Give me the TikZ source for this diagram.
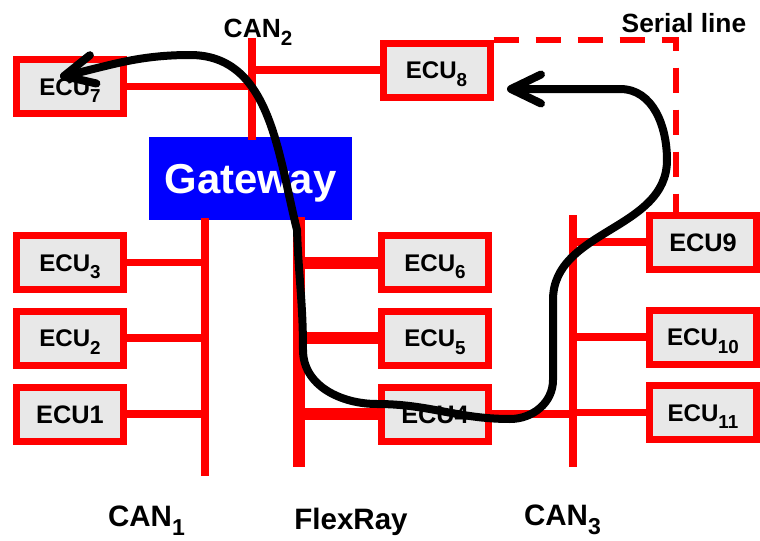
\documentclass[tikz,border=0pt]{standalone}
\usepackage{fontspec}
\setsansfont{Liberation Sans}
\usetikzlibrary{arrows.meta}
\definecolor{busred}{RGB}{255,0,0}
\definecolor{ecugray}{RGB}{232,232,232}
\definecolor{gwblue}{RGB}{0,0,255}
\makeatletter
\newcommand{\idx}[1]{\raisebox{-0.32em}{\fontsize{\fpeval{0.78*\f@size}}{1}\selectfont #1}}
\makeatother

\begin{document}
\begin{tikzpicture}[
  font=\sffamily\bfseries,
  ecu/.style={rectangle, draw=busred, line width=0.14cm, fill=ecugray, inner sep=0pt,
    minimum width=2.14cm, minimum height=1.08cm, text height=9.8pt, text depth=0pt,
    font=\sffamily\bfseries\fontsize{13.7}{16}\selectfont},
  ecuplain/.style={ecu, text height=10.3pt,
    font=\sffamily\bfseries\fontsize{14.4}{17}\selectfont},
  gateway/.style={rectangle, fill=gwblue, text=white, inner sep=0pt,
    minimum width=4.06cm, minimum height=1.66cm, text height=17pt, text depth=0pt,
    font=\sffamily\bfseries\fontsize{23.8}{28}\selectfont},
  buslabel/.style={anchor=base, inner sep=0pt,
    font=\sffamily\bfseries\fontsize{15}{18}\selectfont},
  netlabel/.style={anchor=base, inner sep=0pt,
    font=\sffamily\bfseries\fontsize{16.8}{20}\selectfont},
  bus/.style={draw=busred, line width=0.16cm},
  flexbus/.style={draw=busred, line width=0.24cm},
  stub/.style={draw=busred, line width=0.15cm},
  flexstub/.style={draw=busred, line width=0.24cm},
  serial/.style={draw=busred, line width=0.12cm, dash pattern=on 0.5cm off 0.34cm},
  route/.style={draw=black, line width=0.16cm, line cap=round, line join=round,
    {Straight Barb[length=0.6cm,width=0.58cm,round]}-{Straight Barb[length=0.6cm,width=0.58cm,round]}}
]
  \useasboundingbox (0,0) rectangle (15.2,-10.82);

  % Gateway and ECUs.
  \node[gateway] (gateway) at (5.01,-3.57) {Gateway};
  \node[ecu] (ecu7) at (1.40,-1.73) {ECU\idx{7}};
  \node[ecu] (ecu8) at (8.73,-1.40) {ECU\idx{8}};
  \node[ecu] (ecu3) at (1.40,-5.25) {ECU\idx{3}};
  \node[ecu] (ecu2) at (1.40,-6.76) {ECU\idx{2}};
  \node[ecuplain] (ecu1) at (1.40,-8.28) {ECU1};
  \node[ecu] (ecu6) at (8.70,-5.25) {ECU\idx{6}};
  \node[ecu] (ecu5) at (8.70,-6.76) {ECU\idx{5}};
  \node[ecuplain] (ecu4) at (8.70,-8.28) {ECU4};
  \node[ecuplain] (ecu9) at (14.06,-4.84) {ECU9};
  \node[ecu] (ecu10) at (14.06,-6.74) {ECU\idx{10}};
  \node[ecu] (ecu11) at (14.06,-8.25) {ECU\idx{11}};

  % Bus ends.
  \coordinate (can2top) at (5.04,-0.76);
  \coordinate (can1top) at (4.10,-4.36);
  \coordinate (can1bot) at (4.10,-9.52);
  \coordinate (flextop) at (5.98,-4.34);
  \coordinate (flexbot) at (5.98,-9.34);
  \coordinate (can3top) at (11.46,-4.30);
  \coordinate (can3bot) at (11.46,-9.34);

  % Buses.
  \draw[bus] (can2top) -- ([yshift=-0.06cm]can2top |- gateway.north);
  \draw[bus] (can1top) -- (can1bot);
  \draw[flexbus] (flextop) -- (flexbot);
  \draw[bus] (can3top) -- (can3bot);

  % Stubs to the buses.
  \draw[stub] (ecu7) -- (ecu7 -| can2top);
  \draw[stub] (ecu8) -- (ecu8 -| can2top);
  \draw[stub] (ecu3) -- (ecu3 -| can1top);
  \draw[stub] (ecu2) -- (ecu2 -| can1top);
  \draw[stub] (ecu1) -- (ecu1 -| can1top);
  \draw[flexstub] (ecu6) -- (ecu6 -| flextop);
  \draw[flexstub] (ecu5) -- (ecu5 -| flextop);
  \draw[flexstub] (ecu4) -- (ecu4 -| flextop);
  \draw[stub] (ecu4) -- (ecu4 -| can3top);
  \draw[stub] (ecu9) -- (ecu9 -| can3top);
  \draw[stub] (ecu10) -- (ecu10 -| can3top);
  \draw[stub] (ecu11) -- (ecu11 -| can3top);
  \draw[serial] (ecu8.north east) -| ([xshift=0.59cm]ecu9.north west);

  % Labels.
  \node[buslabel] (can2lbl) at (5.16,-0.74) {CAN\idx{2}};
  \node[buslabel] (seriallbl) at (13.68,-0.64) {Serial line};
  \node[netlabel] (can1lbl) at (2.93,-10.52) {CAN\idx{1}};
  \node[netlabel] (flexlbl) at (7.02,-10.58) {FlexRay};
  \node[netlabel] (can3lbl) at (11.25,-10.50) {CAN\idx{3}};

  % Message route from ECU8 to ECU7.
  \coordinate (tip8) at (10.14,-1.78);
  \coordinate (tip7) at (1.20,-1.54);
  \draw[route] (tip8) -- (12.40,-1.78) to[out=0,in=90] (13.34,-3.20)
    to[out=-90,in=90] (11.06,-6.00) -- (11.06,-7.60)
    to[out=-90,in=0] (10.20,-8.38) to[out=180,in=0] (7.54,-8.08)
    to[out=180,in=-90] (6.06,-7.00) to[out=90,in=-88] (5.94,-4.60)
    to[out=104,in=0] (3.80,-1.10) to[out=180,in=13] (tip7);
\end{tikzpicture}
\end{document}
